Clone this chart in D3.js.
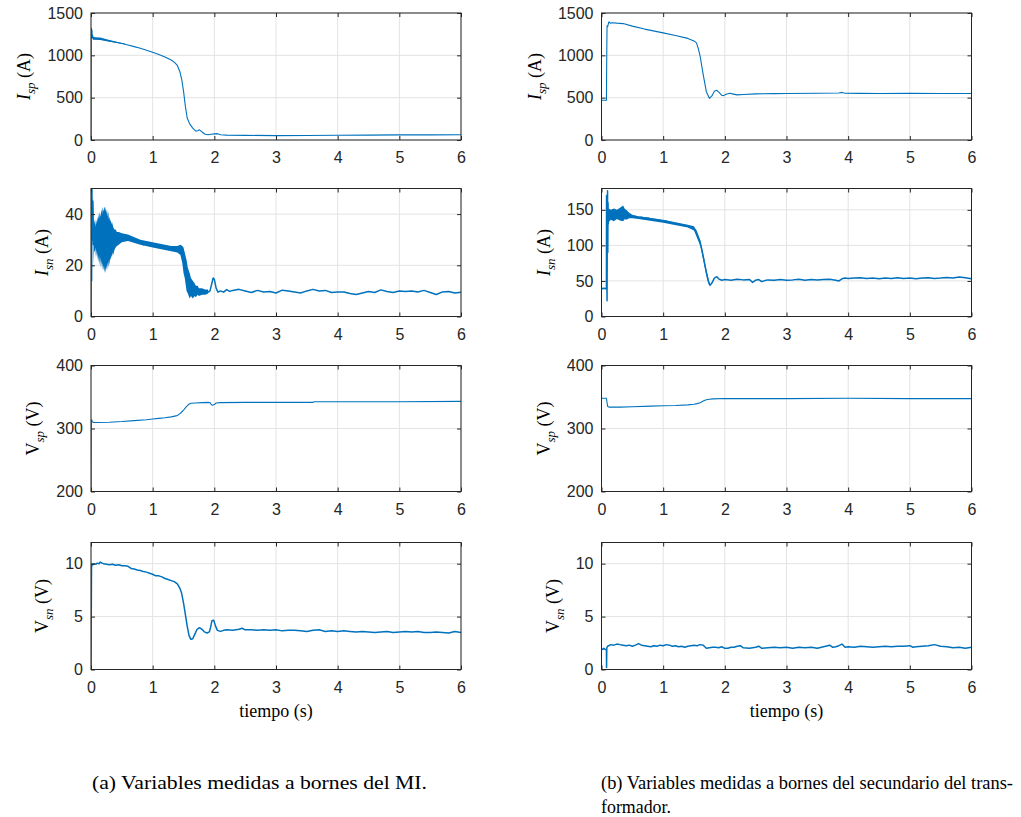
<!DOCTYPE html>
<html>
<head>
<meta charset="utf-8">
<script src="https://cdn.jsdelivr.net/npm/d3@7"></script>
<style>
  body { margin: 0; background: #fff; }
  svg { display: block; }
</style>
</head>
<body>
<svg id="chart" width="1021" height="817"></svg>
<script>
// ---- data (time in s) ----
const xTicks = [0, 1, 2, 3, 4, 5, 6];

// Isp at motor terminals (A)
const ispMi = [[0,0],[0.004,1290],[0.008,1320],[0.012,1250],[0.016,1300],[0.02,1210],[0.025,1240],[0.03,1200],[0.04,1215],[0.06,1205],[0.1,1200],[0.15,1195],[0.2,1185],[0.3,1170],[0.4,1155],[0.5,1140],[0.6,1122],[0.7,1103],[0.8,1083],[0.9,1060],[1.0,1036],[1.1,1010],[1.2,980],[1.3,945],[1.35,920],[1.4,880],[1.44,810],[1.47,720],[1.5,580],[1.53,400],[1.56,260],[1.6,190],[1.65,140],[1.7,105],[1.73,110],[1.76,120],[1.8,95],[1.85,68],[1.9,62],[1.95,68],[2.0,72],[2.05,75],[2.1,62],[2.2,58],[2.5,55],[3,52],[3.5,53],[4,56],[4.5,57],[5,60],[5.5,61],[6,62]];
const ispMiBand = [[0.03,1185,1215],[0.15,1180,1210],[0.3,1160,1180],[0.45,1142,1156],[0.55,1130,1140]];

// Isn at motor terminals (A)
const isnMi = [[0,0],[0.005,50],[0.01,14],[0.015,50],[0.02,30],[0.03,45],[0.04,28],[0.05,34],[0.1,31],[0.2,30],[0.3,30],[0.4,30],[0.5,31],[0.55,30.5],[0.6,31],[0.65,30],[0.7,29.5],[0.75,29],[0.8,29],[0.85,28],[0.9,28.5],[0.95,28],[1.0,28],[1.05,27.5],[1.1,27],[1.15,27.5],[1.2,27],[1.25,26.5],[1.3,26.5],[1.35,26],[1.4,26],[1.45,26.5],[1.5,22],[1.55,16],[1.6,12],[1.65,10.5],[1.7,10],[1.75,9.5],[1.8,9.5],[1.85,9],[1.9,9.5],[1.93,10],[1.96,13],[1.98,15],[2.0,14.5],[2.03,11],[2.06,9.5],[2.1,10],[2.15,9.5],[2.2,10.5],[2.25,9.8],[2.3,10.2],[2.4,10.6],[2.5,10],[2.6,9.4],[2.7,10.2],[2.8,9.6],[2.9,9.8],[3.0,9.2],[3.1,10.3],[3.2,10.0],[3.3,9.6],[3.4,9.2],[3.5,10.0],[3.6,10.6],[3.7,10.0],[3.8,10.2],[3.9,9.4],[4.0,9.6],[4.1,9.6],[4.2,9.0],[4.3,8.6],[4.4,9.2],[4.5,9.8],[4.6,9.4],[4.7,10.4],[4.8,9.8],[4.9,9.4],[5.0,10],[5.1,9.8],[5.2,10],[5.3,9.6],[5.4,10.2],[5.5,9.4],[5.6,8.6],[5.7,9.6],[5.8,9.8],[5.9,9.2],[6.0,9.5]];
const isnMiBand = [[0.04,20,48],[0.05,26,36],[0.06,25,38],[0.07,27,35],[0.08,23,38],[0.09,26,36],[0.1,22,39],[0.11,25,37],[0.12,21,40],[0.13,24,38],[0.14,20,41],[0.15,23,39],[0.16,19,40],[0.17,22,42],[0.18,18,40],[0.19,21,43],[0.2,18,41],[0.21,20,42],[0.22,17,43],[0.23,19,41],[0.24,17,43],[0.25,20,40],[0.26,18,42],[0.27,21,39],[0.28,19,41],[0.29,22,38],[0.3,20,39],[0.31,23,37],[0.32,22,38],[0.33,24,36],[0.34,23,37],[0.35,25,36],[0.36,24,35],[0.38,26,34],[0.4,27,34],[0.42,27.5,33],[0.45,28,33],[0.5,29,32.5],[0.6,29.5,32],[0.8,28,30],[1.0,27,29],[1.2,26,28],[1.3,25.5,27.5],[1.4,25,27.5],[1.45,24,28],[1.48,21,27.5],[1.5,17,27],[1.52,15,25],[1.55,10,22],[1.57,9,19],[1.6,7,17],[1.62,8,15],[1.65,7,14],[1.68,8,13],[1.7,7.5,12],[1.73,8.5,12],[1.75,8,11],[1.8,8.5,11],[1.85,8.5,10.5],[1.9,9,10.5]];

// Vsp at motor terminals (V)
const vspMi = [[0,200],[0.005,312],[0.01,314],[0.02,311],[0.04,309.5],[0.1,309.5],[0.3,310],[0.5,311],[0.7,312.5],[0.9,314],[1.0,315],[1.1,316],[1.2,317],[1.3,318.5],[1.38,320],[1.42,322],[1.46,325],[1.5,329],[1.54,334],[1.58,338],[1.62,340],[1.7,340.5],[1.8,341],[1.9,341.5],[1.93,341],[1.95,338],[1.97,337],[2.0,338],[2.03,340.5],[2.1,341],[2.5,341.5],[3.0,341.5],[3.6,341.5],[3.62,342.5],[4,342.5],[5,342.5],[6,343]];

// Vsn at motor terminals (V)
const vsnMi = [[0,0],[0.008,9.6],[0.015,10.0],[0.03,9.9],[0.05,10.0],[0.08,9.95],[0.1,10.05],[0.13,10.0],[0.15,10.15],[0.18,10.05],[0.2,10.0],[0.25,9.95],[0.3,9.9],[0.35,9.95],[0.4,9.85],[0.45,9.9],[0.5,9.8],[0.55,9.8],[0.6,9.75],[0.65,9.55],[0.7,9.5],[0.75,9.4],[0.8,9.35],[0.85,9.25],[0.9,9.2],[0.95,9.1],[1.0,9.0],[1.05,8.85],[1.1,8.85],[1.15,8.75],[1.2,8.6],[1.25,8.5],[1.3,8.4],[1.35,8.3],[1.4,8.1],[1.44,7.7],[1.47,7.2],[1.5,6.3],[1.53,5.2],[1.56,4.1],[1.59,3.2],[1.62,2.85],[1.65,2.9],[1.68,3.3],[1.72,3.8],[1.76,3.95],[1.8,3.8],[1.84,3.55],[1.88,3.45],[1.92,3.55],[1.94,4.0],[1.96,4.6],[1.99,4.65],[2.02,4.1],[2.05,3.7],[2.1,3.6],[2.15,3.7],[2.2,3.75],[2.3,3.7],[2.4,3.8],[2.45,3.9],[2.5,3.75],[2.6,3.75],[2.7,3.7],[2.8,3.75],[2.9,3.7],[3.0,3.75],[3.1,3.65],[3.2,3.7],[3.3,3.7],[3.4,3.65],[3.5,3.6],[3.6,3.7],[3.7,3.75],[3.8,3.6],[3.9,3.65],[4.0,3.6],[4.1,3.65],[4.2,3.6],[4.3,3.55],[4.4,3.6],[4.5,3.55],[4.6,3.5],[4.7,3.55],[4.8,3.6],[4.9,3.5],[5.0,3.55],[5.1,3.6],[5.2,3.55],[5.3,3.6],[5.4,3.5],[5.5,3.5],[5.6,3.55],[5.7,3.5],[5.8,3.45],[5.9,3.6],[6.0,3.5]];

// Isp at transformer secondary (A)
const ispTr = [[0,470],[0.08,470],[0.085,1000],[0.09,1350],[0.1,1340],[0.11,1370],[0.12,1395],[0.14,1380],[0.18,1385],[0.25,1380],[0.35,1375],[0.5,1345],[0.7,1310],[0.9,1280],[1.0,1265],[1.2,1235],[1.4,1200],[1.5,1170],[1.54,1147],[1.57,1080],[1.6,988],[1.65,770],[1.7,571],[1.75,492],[1.79,520],[1.83,575],[1.87,587],[1.91,560],[1.95,528],[1.98,524],[2.02,540],[2.08,552],[2.14,542],[2.2,533],[2.3,538],[2.5,545],[2.8,548],[3.0,550],[3.5,552],[3.85,556],[3.9,562],[3.95,553],[4.2,551],[4.5,550],[5,551],[5.5,550],[6,550]];

// Isn at transformer secondary (A)
const isnTr = [[0,40],[0.02,39],[0.04,40],[0.06,39],[0.08,40],[0.082,170],[0.086,60],[0.09,22],[0.094,120],[0.098,177],[0.102,90],[0.106,160],[0.11,130],[0.115,150],[0.12,140],[0.15,143],[0.2,142],[0.25,143],[0.3,143],[0.35,144],[0.4,142],[0.45,141],[0.5,140],[0.55,140.5],[0.6,139],[0.65,139.5],[0.7,138],[0.75,138.5],[0.8,137],[0.85,136.5],[0.9,136],[0.95,135],[1.0,134],[1.05,134],[1.1,132.5],[1.15,132],[1.2,130.5],[1.25,130],[1.3,128.5],[1.35,128],[1.4,127],[1.45,125.5],[1.5,124],[1.53,121],[1.56,114],[1.6,104],[1.63,93],[1.66,80],[1.7,62],[1.73,50],[1.76,44],[1.79,47],[1.83,54],[1.87,56],[1.9,53],[1.95,51],[2.0,52],[2.1,51],[2.2,52.5],[2.3,51.5],[2.4,52],[2.45,48],[2.5,51],[2.55,52],[2.6,49],[2.65,50.5],[2.7,51.5],[2.8,51],[2.9,52],[3.0,51],[3.1,51.5],[3.2,52.5],[3.3,51],[3.4,52],[3.5,51.5],[3.6,52],[3.7,52.5],[3.8,51],[3.85,50],[3.9,53],[3.95,54],[4.0,53.5],[4.1,54],[4.2,54.5],[4.3,53.5],[4.4,54],[4.5,53],[4.6,54],[4.7,53.5],[4.8,54.5],[4.9,53.5],[5.0,54],[5.1,53],[5.2,54],[5.3,54.5],[5.4,53.5],[5.5,54],[5.6,55],[5.7,54],[5.8,55.5],[5.9,54.5],[6.0,53]];
const isnTrBand = [[0.12,133,152],[0.15,136,150],[0.2,134,152],[0.25,137,150],[0.3,135,153],[0.35,134,156],[0.38,137,151],[0.4,136,150],[0.45,138,146],[0.5,138,143],[0.6,137,141],[1.0,132,136],[1.4,125,129],[1.5,121,127],[1.6,100,108],[1.7,58,66],[1.75,42,48]];

// Vsp at transformer secondary (V)
const vspTr = [[0,348],[0.08,348],[0.09,341],[0.1,335],[0.12,334],[0.3,334],[0.5,334.5],[0.8,335.5],[1.0,336],[1.2,336.5],[1.4,337.5],[1.5,338.5],[1.55,339.5],[1.6,341],[1.65,343.5],[1.7,345.5],[1.75,346.5],[1.8,347],[2.0,347.5],[3.0,347.5],[4.0,348],[5.0,347.5],[6,347.5]];

// Vsn at transformer secondary (V)
const vsnTr = [[0,1.95],[0.02,1.9],[0.04,2.0],[0.06,1.9],[0.08,1.85],[0.082,0.2],[0.086,2.0],[0.09,2.1],[0.1,2.2],[0.15,2.35],[0.2,2.3],[0.25,2.4],[0.3,2.35],[0.35,2.3],[0.4,2.25],[0.45,2.3],[0.5,2.2],[0.55,2.3],[0.6,2.45],[0.65,2.3],[0.7,2.25],[0.75,2.2],[0.8,2.15],[0.85,2.25],[0.9,2.2],[0.95,2.3],[1.0,2.25],[1.05,2.35],[1.1,2.3],[1.15,2.2],[1.2,2.25],[1.25,2.15],[1.3,2.2],[1.35,2.1],[1.4,2.2],[1.45,2.25],[1.5,2.3],[1.55,2.25],[1.6,2.35],[1.65,2.3],[1.7,2.0],[1.75,2.05],[1.8,2.1],[1.85,2.1],[1.9,2.05],[1.95,2.15],[2.0,2.0],[2.05,2.0],[2.1,2.1],[2.15,2.1],[2.2,2.2],[2.25,2.25],[2.3,2.05],[2.4,2.0],[2.5,2.1],[2.55,2.2],[2.6,2.0],[2.7,2.05],[2.8,2.1],[2.9,2.05],[3.0,2.1],[3.1,2.0],[3.2,2.1],[3.3,2.05],[3.4,2.1],[3.5,2.0],[3.6,2.15],[3.7,2.3],[3.75,2.1],[3.8,2.15],[3.85,2.25],[3.9,2.4],[3.95,2.1],[4.0,2.15],[4.1,2.1],[4.2,2.2],[4.3,2.15],[4.4,2.1],[4.5,2.15],[4.6,2.2],[4.7,2.15],[4.8,2.2],[4.9,2.2],[5.0,2.25],[5.05,2.1],[5.1,2.15],[5.2,2.2],[5.3,2.25],[5.4,2.35],[5.5,2.2],[5.6,2.15],[5.7,2.05],[5.8,2.1],[5.9,2.0],[6.0,2.1]];

// axis settings per row
const rowDomains = [[0, 1500], [0, 50], [200, 400], [0, 12]];
const rowTicksMi = [[0, 500, 1000, 1500], [0, 20, 40], [200, 300, 400], [0, 5, 10]];
const rowTicksTr = [[0, 500, 1000, 1500], [0, 50, 100, 150], [200, 300, 400], [0, 5, 10]];
const rowDomainsTr = [[0, 1500], [0, 180], [200, 400], [0, 12]];
const rowSymbols = [['I', 'sp', '(A)'], ['I', 'sn', '(A)'], ['V', 'sp', '(V)'], ['V', 'sn', '(V)']];

const captionA = '(a) Variables medidas a bornes del MI.';
const captionB1 = '(b) Variables medidas a bornes del secundario del trans-';
const captionB2 = 'formador.';

// ---- layout ----
const colX = [91, 601.5];
const plotW = 370;
const rowY = [[13, 140], [188.5, 316.5], [365.5, 491.5], [542.5, 669.5]];
const blue = '#0072BD';
const axisColor = '#262626';
const gridColor = '#e3e3e3';
const tickFmt = d3.format('d');

const svg = d3.select('#chart');

const columns = [
  { series: [ispMi, isnMi, vspMi, vsnMi], bands: [ispMiBand, isnMiBand, null, null], domains: rowDomains, ticks: rowTicksMi },
  { series: [ispTr, isnTr, vspTr, vsnTr], bands: [null, isnTrBand, null, null], domains: rowDomainsTr, ticks: rowTicksTr }
];

columns.forEach((col, ci) => {
  col.series.forEach((data, ri) => {
    const x0 = colX[ci];
    const [top, bottom] = rowY[ri];
    const h = bottom - top;
    const x = d3.scaleLinear().domain([0, 6]).range([0, plotW]);
    const y = d3.scaleLinear().domain(col.domains[ri]).range([h, 0]);
    const yTicks = col.ticks[ri];

    const g = svg.append('g').attr('transform', `translate(${x0},${top})`);

    // grid
    g.append('g').selectAll('line').data(xTicks).join('line')
      .attr('x1', d => x(d)).attr('x2', d => x(d))
      .attr('y1', 0).attr('y2', h)
      .attr('stroke', gridColor).attr('stroke-width', 1);
    g.append('g').selectAll('line').data(yTicks).join('line')
      .attr('x1', 0).attr('x2', plotW)
      .attr('y1', d => y(d)).attr('y2', d => y(d))
      .attr('stroke', gridColor).attr('stroke-width', 1);

    const clipId = `clip-${ci}-${ri}`;
    g.append('clipPath').attr('id', clipId)
      .append('rect').attr('x', 0).attr('y', 0).attr('width', plotW).attr('height', h);

    const plot = g.append('g').attr('clip-path', `url(#${clipId})`);

    const band = col.bands[ri];
    if (band) {
      plot.append('path')
        .datum(band)
        .attr('fill', blue)
        .attr('d', d3.area().x(d => x(d[0])).y0(d => y(d[1])).y1(d => y(d[2])));
    }
    plot.append('path')
      .datum(data)
      .attr('fill', 'none')
      .attr('stroke', blue)
      .attr('stroke-width', ri === 1 || ri === 3 ? 1.5 : 1.1)
      .attr('stroke-linejoin', 'round')
      .attr('d', d3.line().x(d => x(d[0])).y(d => y(d[1])));

    // axes (MATLAB-like inward ticks)
    const gx = g.append('g').attr('transform', `translate(0,${h})`)
      .call(d3.axisBottom(x).tickValues(xTicks).tickFormat(tickFmt).tickSizeInner(-4).tickSizeOuter(0).tickPadding(12));
    const gxt = g.append('g')
      .call(d3.axisTop(x).tickValues(xTicks).tickSizeInner(-4).tickSizeOuter(0).tickFormat(''));
    const gy = g.append('g')
      .call(d3.axisLeft(y).tickValues(yTicks).tickFormat(tickFmt).tickSizeInner(-4).tickSizeOuter(0).tickPadding(8));
    const gyr = g.append('g').attr('transform', `translate(${plotW},0)`)
      .call(d3.axisRight(y).tickValues(yTicks).tickSizeInner(-4).tickSizeOuter(0).tickFormat(''));

    [gx, gxt, gy, gyr].forEach(a => {
      a.select('.domain').remove();
      a.selectAll('line').attr('stroke', axisColor);
      a.selectAll('text')
        .attr('fill', axisColor)
        .style('font-family', '"Liberation Sans", Arial, sans-serif')
        .style('font-size', '16px');
    });

    g.append('rect')
      .attr('x', 0).attr('y', 0).attr('width', plotW).attr('height', h)
      .attr('fill', 'none').attr('stroke', axisColor).attr('stroke-width', 1);

    // y label with subscript
    let maxW = 0;
    gy.selectAll('text').each(function() { maxW = Math.max(maxW, this.getComputedTextLength()); });
    const [sym, sub, unit] = rowSymbols[ri];
    const yl = g.append('text')
      .attr('transform', `translate(${-(8 + maxW + 17)},${h / 2}) rotate(-90)`)
      .attr('text-anchor', 'middle')
      .attr('fill', '#000')
      .style('font-family', '"Liberation Serif", "Times New Roman", serif')
      .style('font-size', '18px');
    yl.append('tspan').text(sym).style('font-style', sym === 'I' ? 'italic' : 'normal');
    yl.append('tspan').text(sub).attr('dy', 5).style('font-size', '13px').style('font-style', 'italic');
    yl.append('tspan').text(' ' + unit).attr('dy', -5);

    if (ri === 3) {
      g.append('text')
        .attr('x', plotW / 2).attr('y', h + 47)
        .attr('text-anchor', 'middle')
        .attr('fill', '#000')
        .style('font-family', '"Liberation Serif", "Times New Roman", serif')
        .style('font-size', '18px')
        .text('tiempo (s)');
    }
  });
});

// captions
const capStyle = sel => sel
  .attr('fill', '#000')
  .style('font-family', '"Liberation Serif", "Times New Roman", serif')
  .style('font-size', '18px');

svg.append('text').attr('x', 92).attr('y', 789).text(captionA).call(capStyle)
  .attr('textLength', 335).attr('lengthAdjust', 'spacingAndGlyphs');
svg.append('text').attr('x', 601).attr('y', 789).text(captionB1).call(capStyle)
  .attr('textLength', 412).attr('lengthAdjust', 'spacingAndGlyphs');
svg.append('text').attr('x', 601).attr('y', 813).text(captionB2).call(capStyle)
  .attr('textLength', 70).attr('lengthAdjust', 'spacingAndGlyphs');
</script>
</body>
</html>
